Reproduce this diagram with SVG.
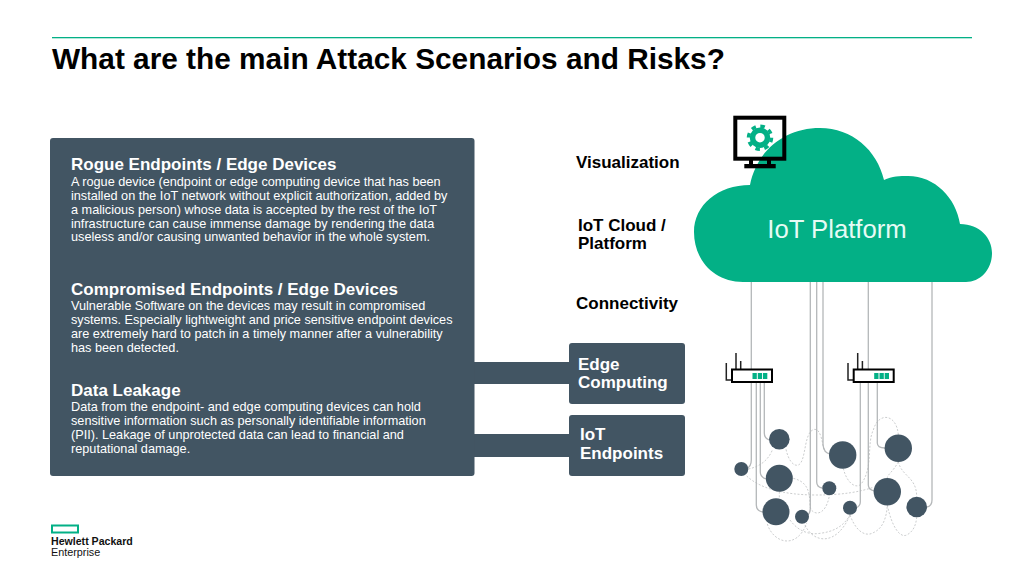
<svg xmlns="http://www.w3.org/2000/svg" width="1024" height="576" viewBox="0 0 1024 576">
<style>
text{font-family:"Liberation Sans",Arial,sans-serif}
.dark{fill:#425563}
.h{font-size:17px;font-weight:bold;fill:#fff}
.b{font-size:12.7px;fill:#fff}
.lab{font-size:17px;font-weight:bold;fill:#000}
.wl{font-size:17px;font-weight:bold;fill:#fff}
.wire{fill:none;stroke:#b4b7b9;stroke-width:1.3}
.dash{fill:none;stroke:#b0b3b5;stroke-width:2;stroke-dasharray:6 5}
.dot{fill:#425563}
.rb{fill:#fff;stroke:#000;stroke-width:2}
.ant{fill:none;stroke:#222;stroke-width:1.5}
.led{fill:#03B086}
</style>
<defs>
<g id="router">
<path class="ant" d="M736 369V353M740.700 369V361M731.700 380H726.300V363"/>
<rect class="rb" x="732" y="369.500" width="40" height="12.500"/>
<rect class="led" x="752.500" y="373" width="4.300" height="6"/>
<rect class="led" x="757.800" y="373" width="4.300" height="6"/>
<rect class="led" x="763" y="373" width="4.300" height="6"/>
</g>
</defs>
<rect width="1024" height="576" fill="#fff"/>
<rect x="52" y="37" width="920" height="1.300" fill="#03B086"/>
<text x="52" y="69" font-size="29.800" font-weight="bold" fill="#000">What are the main Attack Scenarios and Risks?</text>

<g id="connectors">
<path class="wire" d="M751.300 282V460Q751.300 467 746 469"/>
<path class="wire" d="M756.300 382V505Q756.300 511 763 512"/>
<path class="wire" d="M760.300 382V472Q760.300 477 766 479"/>
<path class="wire" d="M764.300 382V433Q764.300 438 769 440"/>
<path class="wire" d="M810.300 282V508Q810.300 514 807 515"/>
<path class="wire" d="M816.700 282V482Q816.700 487 822 488"/>
<path class="wire" d="M823 282V445Q824 453 830 454"/>
<path class="wire" d="M860.300 382V502Q860.300 506 856 508"/>
<path class="wire" d="M868.300 282V485Q868.300 490 875 491"/>
<path class="wire" d="M877.300 382V443Q877.300 448 885 448"/>
<path class="wire" d="M932 282V500Q932 506 927 507"/>
<g transform="translate(710 410) scale(.33333)">
<path class="dash" d="M115 177C150 170 175 150 187 120"/>
<path class="dash" d="M228 118C235 150 250 170 265 165C290 155 280 60 315 58C335 60 335 100 345 125"/>
<path class="dash" d="M110 198C150 235 220 255 320 255C400 255 450 245 490 232"/>
<path class="dash" d="M250 205C290 215 300 240 300 290C305 315 345 325 358 258"/>
<path class="dash" d="M208 245V265"/>
<path class="dash" d="M172 342C190 400 260 420 290 340"/>
<path class="dash" d="M240 330C265 365 300 375 330 370C370 365 400 350 420 315"/>
<path class="dash" d="M285 345C310 400 380 410 420 315"/>
<path class="dash" d="M420 315C440 370 470 380 490 368C520 355 530 320 532 285"/>
<path class="dash" d="M532 285C545 350 570 385 590 375C610 365 618 345 620 322"/>
<path class="dash" d="M400 175C410 220 440 240 455 220C490 170 470 100 490 60C505 5 560 10 565 75"/>
<path class="dash" d="M565 155C550 185 530 195 532 205"/>
<path class="dash" d="M565 155C575 200 620 200 620 260"/>
</g>
<rect class="dark" x="470" y="362" width="103" height="22"/>
<rect class="dark" x="470" y="434" width="103" height="23"/>
</g>

<g id="panel">
<rect class="dark" x="50" y="138" width="424.500" height="338" rx="3"/>
<text class="h" x="71" y="170">Rogue Endpoints / Edge Devices</text>
<text class="b" x="71" y="186">A rogue device (endpoint or edge computing device that has been</text>
<text class="b" x="71" y="200">installed on the IoT network without explicit authorization, added by</text>
<text class="b" x="71" y="213.500">a malicious person) whose data is accepted by the rest of the IoT</text>
<text class="b" x="71" y="227.500">infrastructure can cause immense damage by rendering the data</text>
<text class="b" x="71" y="241">useless and/or causing unwanted behavior in the whole system.</text>
<text class="h" x="71" y="295">Compromised Endpoints / Edge Devices</text>
<text class="b" x="71" y="310">Vulnerable Software on the devices may result in compromised</text>
<text class="b" x="71" y="324">systems. Especially lightweight and price sensitive endpoint devices</text>
<text class="b" x="71" y="338">are extremely hard to patch in a timely manner after a vulnerability</text>
<text class="b" x="71" y="351.500">has been detected.</text>
<text class="h" x="71" y="396">Data Leakage</text>
<text class="b" x="71" y="411">Data from the endpoint- and edge computing devices can hold</text>
<text class="b" x="71" y="425">sensitive information such as personally identifiable information</text>
<text class="b" x="71" y="439">(PII). Leakage of unprotected data can lead to financial and</text>
<text class="b" x="71" y="453">reputational damage.</text>
</g>

<g id="label-visualization"><text class="lab" x="576" y="168">Visualization</text></g>
<g id="label-cloud"><text class="lab" x="578" y="231">IoT Cloud /</text><text class="lab" x="578" y="249">Platform</text></g>
<g id="label-connectivity"><text class="lab" x="576" y="309">Connectivity</text></g>

<g id="edge-computing">
<rect class="dark" x="569" y="343" width="116" height="61" rx="3"/>
<text class="wl" x="578" y="370">Edge</text><text class="wl" x="578" y="388">Computing</text>
</g>
<g id="iot-endpoints">
<rect class="dark" x="569" y="415" width="116" height="61" rx="3"/>
<text class="wl" x="580" y="440">IoT</text><text class="wl" x="580" y="459">Endpoints</text>
</g>

<g id="iot-platform">
<path fill="#03B086" d="M743 282C714 282 694 260 694 232C694 205 718 185 750 185C757 150 785 128 820 128C852 128 877 150 884 180C892 176 900 176 908 176C935 176 956 198 960 224C980 224 992 238 992 253C992 270 980 282 966 282Z"/>
<text x="837" y="238" font-size="25.700" text-anchor="middle" fill="#e6fbf5">IoT Platform</text>
</g>
<g id="visualization-icon">
<rect x="735.300" y="117.700" width="49" height="41" fill="none" stroke="#000" stroke-width="4"/>
<path d="M751 160V165M769 160V165" stroke="#000" stroke-width="4" fill="none"/>
<rect x="744.300" y="164" width="31.400" height="4.300" fill="#000"/>
<circle cx="760" cy="137.700" r="7.500" fill="none" stroke="#03B086" stroke-width="5.500"/>
<circle cx="760" cy="137.700" r="11.500" fill="none" stroke="#03B086" stroke-width="3.500" stroke-dasharray="4.500 4.530"/>
</g>

<g id="router-1"><use href="#router"/></g>
<g id="router-2"><use href="#router" transform="translate(121.700 0)"/></g>

<g id="node-1"><circle class="dot" cx="779.300" cy="439.300" r="10.300"/></g>
<g id="node-2"><circle class="dot" cx="741.300" cy="469" r="7"/></g>
<g id="node-3"><circle class="dot" cx="779.300" cy="478.300" r="13.500"/></g>
<g id="node-4"><circle class="dot" cx="776" cy="511.700" r="13.500"/></g>
<g id="node-5"><circle class="dot" cx="802" cy="516.700" r="7"/></g>
<g id="node-6"><circle class="dot" cx="842.700" cy="455" r="13.700"/></g>
<g id="node-7"><circle class="dot" cx="829.300" cy="488.300" r="7"/></g>
<g id="node-8"><circle class="dot" cx="850" cy="507.700" r="7"/></g>
<g id="node-9"><circle class="dot" cx="898.300" cy="448.300" r="13.700"/></g>
<g id="node-10"><circle class="dot" cx="887.300" cy="491.700" r="13.700"/></g>
<g id="node-11"><circle class="dot" cx="916.700" cy="507" r="10.300"/></g>

<g id="logo">
<rect x="52" y="525.500" width="26" height="7" fill="none" stroke="#03B086" stroke-width="2"/>
<text x="51" y="545" font-size="10.600" font-weight="bold" fill="#111">Hewlett Packard</text>
<text x="51" y="556" font-size="10.800" fill="#111">Enterprise</text>
</g>
</svg>
